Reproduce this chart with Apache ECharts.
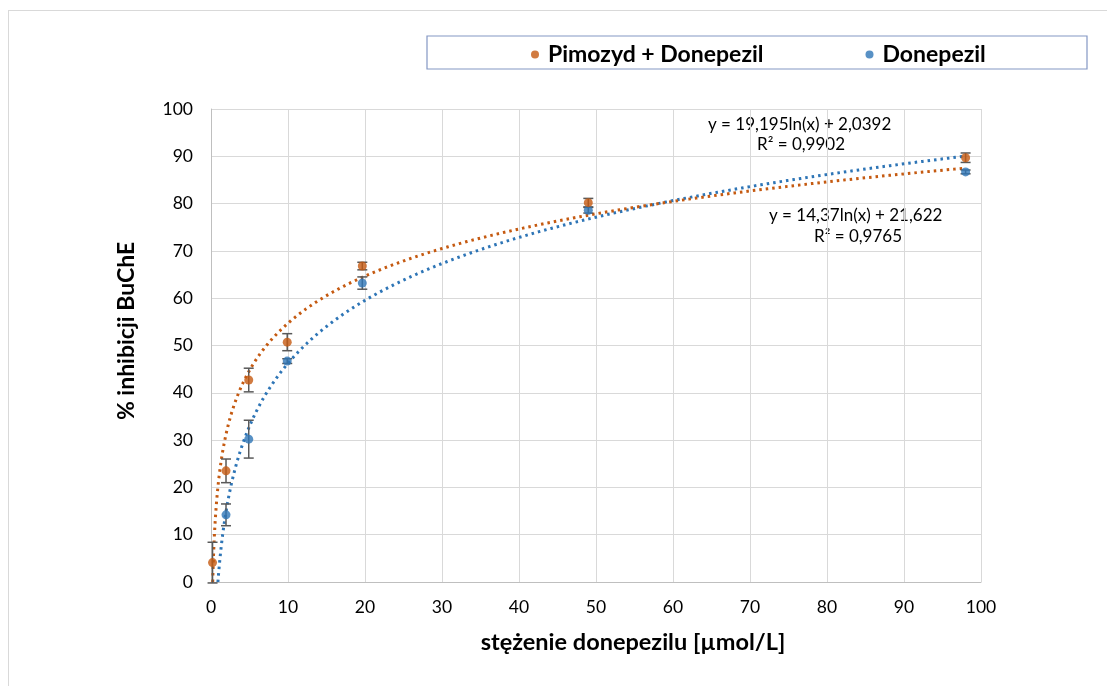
<!DOCTYPE html>
<html>
<head>
<meta charset="utf-8">
<script src="https://cdn.jsdelivr.net/npm/echarts@6/dist/echarts.min.js"></script>
<style>
  html, body { margin: 0; padding: 0; background: #fff; }
  #frame { position: absolute; left: 8px; top: 10px; width: 1200px; height: 800px; border: 1px solid #d9d9d9; }
  #chart { position: absolute; left: 0; top: 0; width: 1107px; height: 686px; }
</style>
</head>
<body>
<div id="frame"></div>
<div id="chart"></div>
<script>
// measured points
var xPim = [0.2, 1.95, 4.9, 9.9, 19.65, 49, 98];
var yPim = [4.1, 23.5, 42.7, 50.7, 66.8, 80.2, 89.7];
var ePim = [4.3, 2.5, 2.5, 1.8, 0.8, 0.9, 1.0];

var xDon = [1.95, 4.9, 9.9, 19.65, 49, 98];
var yDon = [14.2, 30.2, 46.7, 63.2, 78.6, 86.7];
var eDon = [2.3, 4.0, 0.5, 1.3, 0.6, 0.4];

// trendline coefficients: y = a*ln(x) + b
var fitPim = [14.37, 21.622];
var fitDon = [19.195, 2.0392];

var xTicks = [0, 10, 20, 30, 40, 50, 60, 70, 80, 90, 100];
var yTicks = [0, 10, 20, 30, 40, 50, 60, 70, 80, 90, 100];

var orange = '#C55A11';
var blue = '#2E75B6';

function pairs(xs, ys) {
  return xs.map(function (x, i) { return [x, ys[i]]; });
}
function bars(xs, ys, es) {
  return xs.map(function (x, i) { return [x, ys[i] - es[i], ys[i] + es[i]]; });
}
function trend(fit, xEnd) {
  var x0 = Math.exp(-fit[1] / fit[0]);
  var out = [];
  for (var i = 0; i <= 400; i++) {
    var x = x0 * Math.pow(xEnd / x0, i / 400);
    out.push([x, fit[0] * Math.log(x) + fit[1]]);
  }
  return out;
}
function errRender(params, api) {
  var lo = api.coord([api.value(0), api.value(1)]);
  var hi = api.coord([api.value(0), api.value(2)]);
  var w = 5;
  var st = { stroke: '#595959', lineWidth: 1.5 };
  return {
    type: 'group',
    children: [
      { type: 'line', shape: { x1: lo[0], y1: lo[1], x2: hi[0], y2: hi[1] }, style: st },
      { type: 'line', shape: { x1: lo[0] - w, y1: lo[1], x2: lo[0] + w, y2: lo[1] }, style: st },
      { type: 'line', shape: { x1: hi[0] - w, y1: hi[1], x2: hi[0] + w, y2: hi[1] }, style: st }
    ]
  };
}

var font = 'Lato, "Open Sans", sans-serif';
var eqFont = '17px ' + font;
var titleFont = 'bold 23.5px ' + font;
var myChart = echarts.init(document.getElementById('chart'));
var option = {
  animation: false,
  textStyle: { fontFamily: font },
  grid: { left: 211, right: 126, top: 109, bottom: 104 },
  graphic: [
    { type: 'rect', shape: { x: 427, y: 36, width: 660, height: 33 },
      style: { fill: '#fff', stroke: '#8497c4', lineWidth: 1.2 }, z: -1 },
    { type: 'text', left: 708, top: 116, style: { text: 'y = 19,195ln(x) + 2,0392', font: eqFont, fill: '#000' } },
    { type: 'text', left: 757, top: 136, style: { text: 'R² = 0,9902', font: eqFont, fill: '#000' } },
    { type: 'text', left: 769, top: 207, style: { text: 'y = 14,37ln(x) + 21,622', font: eqFont, fill: '#000' } },
    { type: 'text', left: 814, top: 228, style: { text: 'R² = 0,9765', font: eqFont, fill: '#000' } },
    { type: 'text', x: 633, y: 642,
      style: { text: 'stężenie donepezilu [µmol/L]', font: titleFont, fill: '#000', align: 'center', verticalAlign: 'middle' } },
    { type: 'text', x: 127, y: 331, rotation: Math.PI / 2,
      style: { text: '% inhibicji BuChE', font: 'bold 23px ' + font, fill: '#000', align: 'center', verticalAlign: 'middle' } }
  ],
  legend: {
    data: ['Pimozyd + Donepezil', 'Donepezil'],
    top: 38, left: 526,
    icon: 'circle', itemWidth: 8, itemHeight: 8, itemGap: 102,
    textStyle: { fontSize: 23, fontWeight: 'bold', color: '#000', fontFamily: font, padding: [0, 0, 0, 4] }
  },
  xAxis: {
    type: 'value', min: 0, max: 100, interval: 10,
    axisLine: { lineStyle: { color: '#bfbfbf' } },
    axisTick: { show: false },
    axisLabel: { fontSize: 17.5, color: '#000', margin: 16, formatter: function (v) { return xTicks.indexOf(v) >= 0 ? v : ''; } },
    splitLine: { lineStyle: { color: '#d9d9d9' } }
  },
  yAxis: {
    type: 'value', min: 0, max: 100, interval: 10,
    axisLine: { show: true, lineStyle: { color: '#bfbfbf' } },
    axisTick: { show: false },
    axisLabel: { fontSize: 17.5, color: '#000', margin: 18, formatter: function (v) { return yTicks.indexOf(v) >= 0 ? v : ''; } },
    splitLine: { lineStyle: { color: '#d9d9d9' } }
  },
  series: [
    { name: 'Donepezil trend', type: 'line', data: trend(fitDon, 98), showSymbol: false,
      lineStyle: { color: blue, width: 3, type: [2.5, 4] }, z: 2, silent: true },
    { name: 'Pimozyd trend', type: 'line', data: trend(fitPim, 98), showSymbol: false,
      lineStyle: { color: orange, width: 3, type: [2.5, 4] }, z: 2, silent: true },
    { type: 'custom', data: bars(xDon, yDon, eDon), renderItem: errRender, z: 3 },
    { type: 'custom', data: bars(xPim, yPim, ePim), renderItem: errRender, z: 3 },
    { name: 'Donepezil', type: 'scatter', data: pairs(xDon, yDon), symbolSize: 9,
      itemStyle: { color: blue }, z: 4 },
    { name: 'Pimozyd + Donepezil', type: 'scatter', data: pairs(xPim, yPim), symbolSize: 9,
      itemStyle: { color: orange }, z: 5 }
  ]
};
option && myChart.setOption(option);
</script>
</body>
</html>
